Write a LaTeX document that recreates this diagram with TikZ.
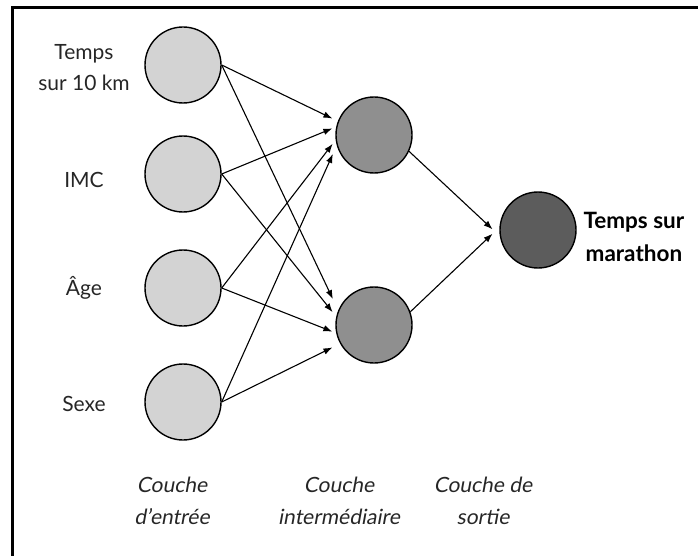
\documentclass[tikz,border=0pt]{standalone}
\usepackage{fontspec}
\setmainfont{Lato}
\newfontfamily\obliquefont[FakeSlant=0.18]{Lato}
\usetikzlibrary{arrows.meta,calc}
\definecolor{inputgray}{RGB}{211,211,211}
\definecolor{hiddengray}{RGB}{143,143,143}
\definecolor{outgray}{RGB}{92,92,92}
\begin{document}
\begin{tikzpicture}[x=1pt,y=-1pt,
  neuron/.style={circle,draw=black,line width=1.4pt,minimum size=76pt,inner sep=0pt},
  lab/.style={font=\fontsize{21}{31}\selectfont,align=center,text=black!85},
  layerlab/.style={font=\fontsize{21}{32}\selectfont\obliquefont,align=center,text=black!85},
  conn/.style={line width=1.1pt,-{Latex[length=9pt,width=6.5pt]},shorten >=1pt}]
\useasboundingbox (0,0) rectangle (698,556);
\draw[line width=3pt] (12.5,556) -- (12.5,7.5) -- (698,7.5);
% input layer
\node[neuron,fill=inputgray] (i1) at (183,65) {};
\node[neuron,fill=inputgray] (i2) at (183,174) {};
\node[neuron,fill=inputgray] (i3) at (183,288) {};
\node[neuron,fill=inputgray] (i4) at (183,402) {};
% hidden layer
\node[neuron,fill=hiddengray] (h1) at (374,135) {};
\node[neuron,fill=hiddengray] (h2) at (374,325) {};
% output layer
\node[neuron,fill=outgray] (o) at (538,230) {};
% labels
\node[lab] (l1) at (84,68) {Temps\\sur 10 km};
\node[lab] (l2) at (84,180) {IMC};
\node[lab] (l3) at (84,288) {Âge};
\node[lab] (l4) at (84,404) {Sexe};
\node[lab,font=\fontsize{22.5}{33}\selectfont\bfseries,text=black,anchor=west] (lo) at (580,237) {Temps sur\\marathon};
\node[layerlab] (c1) at (172,501) {Couche\\d’entrée};
\node[layerlab] (c2) at (339,501) {Couche\\intermédiaire};
\node[layerlab] (c3) at (483,501) {Couche de\\sortie};
% connections input -> hidden
\draw[conn] (i1.east) -- ($(h1.west)+(-2,-16)$);
\draw[conn] (i2.east) -- ($(h1.west)+(-2,-7)$);
\draw[conn] (i3.east) -- ($(h1.west)+(-2,8)$);
\draw[conn] (i4.east) -- ($(h1.west)+(-2,18)$);
\draw[conn] (i1.east) -- ($(h2.west)+(-2,-25)$);
\draw[conn] (i2.east) -- ($(h2.west)+(-2,-12)$);
\draw[conn] (i3.east) -- ($(h2.west)+(-2,7)$);
\draw[conn] (i4.east) -- ($(h2.west)+(-2,22)$);
% hidden -> output
\draw[conn] (h1.-25) -- ($(o.west)+(-6,0)$);
\draw[conn] (h2.20) -- ($(o.west)+(-6,3)$);
\end{tikzpicture}
\end{document}
